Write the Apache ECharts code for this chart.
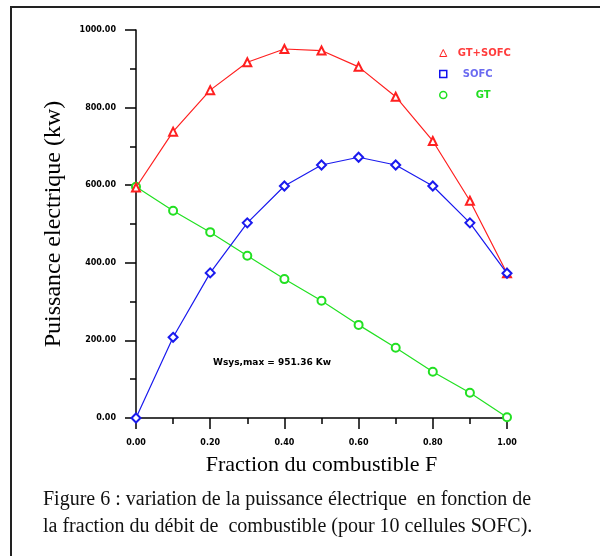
<!DOCTYPE html>
<html>
<head>
<meta charset="utf-8">
<script src="https://cdn.jsdelivr.net/npm/echarts@6/dist/echarts.min.js"></script>
<style>
  html, body { margin: 0; padding: 0; background: #fff; }
  #chart { width: 600px; height: 556px; }
</style>
</head>
<body>
<div id="chart"></div>
<script>
// fraction du combustible F
var fraction = [0, 0.1, 0.2, 0.3, 0.4, 0.5, 0.6, 0.7, 0.8, 0.9, 1.0];
// puissance electrique (kw)
var gtSofc = [594, 738, 845, 917, 951, 947, 905, 828, 714, 560, 373];
var sofc = [0, 208, 374, 503, 598, 652, 672, 652, 598, 503, 373];
var gt = [596, 534, 479, 418, 358, 302, 240, 181, 119, 65, 2];

function pairs(ys) {
  var out = [];
  for (var i = 0; i < fraction.length; i++) out.push([fraction[i], ys[i]]);
  return out;
}

var myChart = echarts.init(document.getElementById("chart"));
var tickFont = { color: "#000", fontSize: 8, fontWeight: "bold", fontFamily: "DejaVu Sans" };

var option = {
  backgroundColor: "#fff",
  animation: false,
  grid: { left: 136, right: 93, top: 30, bottom: 138 },
  legend: {
    orient: "vertical",
    left: 434,
    top: 43,
    itemGap: 11,
    itemWidth: 7,
    itemHeight: 7,
    textStyle: { fontSize: 10, fontWeight: "bold", fontFamily: "DejaVu Sans", padding: [0, 0, 0, 6] },
    data: [
      { name: "GT+SOFC", icon: "triangle", itemStyle: { color: "#fff", borderColor: "#ff2020", borderWidth: 1 }, textStyle: { color: "#ff3c3c" } },
      { name: "SOFC", icon: "rect", itemStyle: { color: "#fff", borderColor: "#1010ee", borderWidth: 1.5 }, textStyle: { color: "#6a6af0", padding: [0, 0, 0, 11] } },
      { name: "GT", icon: "circle", itemStyle: { color: "#fff", borderColor: "#20e020", borderWidth: 1.5 }, textStyle: { color: "#20dd20", padding: [8, 0, 0, 24] } }
    ]
  },
  xAxis: {
    type: "value",
    min: 0,
    max: 1,
    interval: 0.2,
    name: "Fraction du combustible F",
    nameLocation: "middle",
    nameGap: 36,
    nameTextStyle: { color: "#000", fontSize: 22, fontFamily: "Liberation Serif" },
    axisLine: { lineStyle: { color: "#000", width: 1.5 } },
    axisTick: { length: 11, lineStyle: { color: "#000", width: 1.5 } },
    minorTick: { show: true, splitNumber: 2, length: 6, lineStyle: { color: "#000", width: 1.5 } },
    splitLine: { show: false },
    axisLabel: Object.assign({ margin: 21, formatter: function (v) { return v.toFixed(2); } }, tickFont)
  },
  yAxis: {
    type: "value",
    min: 0,
    max: 1000,
    interval: 200,
    name: "Puissance electrique (kw)",
    nameLocation: "middle",
    nameGap: 70,
    nameTextStyle: { color: "#000", fontSize: 24, fontFamily: "Liberation Serif" },
    axisLine: { show: true, lineStyle: { color: "#000", width: 1.5 } },
    axisTick: { show: true, length: 11, lineStyle: { color: "#000", width: 1.5 } },
    minorTick: { show: true, splitNumber: 2, length: 6, lineStyle: { color: "#000", width: 1.5 } },
    splitLine: { show: false },
    axisLabel: Object.assign({ margin: 20, formatter: function (v) { return v.toFixed(2); } }, tickFont)
  },
  series: [
    {
      name: "GT+SOFC",
      type: "line",
      data: pairs(gtSofc),
      symbol: "emptyTriangle",
      symbolSize: 8,
      color: "#ff2020",
      lineStyle: { color: "#ff2020", width: 1.2 },
      z: 3
    },
    {
      name: "SOFC",
      type: "line",
      data: pairs(sofc),
      symbol: "emptyDiamond",
      symbolSize: 9,
      color: "#1a1aee",
      lineStyle: { color: "#1a1aee", width: 1.2 },
      z: 4
    },
    {
      name: "GT",
      type: "line",
      data: pairs(gt),
      symbol: "emptyCircle",
      symbolSize: 8,
      color: "#22e022",
      lineStyle: { color: "#22e022", width: 1.2 },
      z: 2
    }
  ],
  graphic: [
    {
      type: "rect",
      shape: { x: 11, y: 7, width: 620, height: 600 },
      style: { fill: "none", stroke: "#222", lineWidth: 2 },
      silent: true
    },
    {
      type: "text",
      left: 213,
      top: 358,
      style: { text: "Wsys,max = 951.36 Kw", fill: "#000", font: "bold 9px 'DejaVu Sans'" }
    },
    {
      type: "text",
      left: 43,
      top: 486,
      style: {
        text: "Figure 6 : variation de la puissance électrique  en fonction de\nla fraction du débit de  combustible (pour 10 cellules SOFC).",
        fill: "#111",
        font: "20px 'Liberation Serif'",
        lineHeight: 27
      }
    }
  ]
};

myChart.setOption(option);
</script>
</body>
</html>
